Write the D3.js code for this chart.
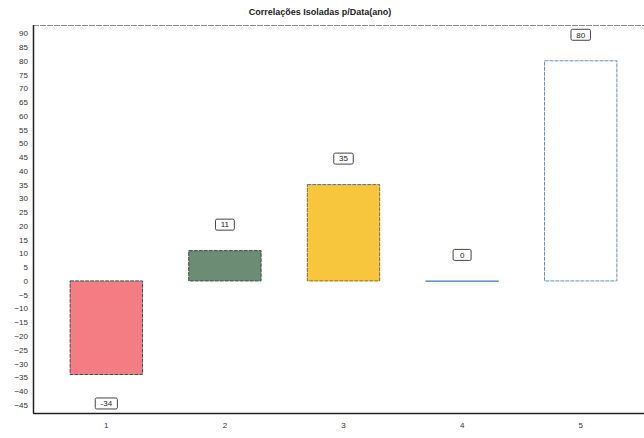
<!DOCTYPE html>
<html>
<head>
<meta charset="utf-8">
<script src="https://cdn.jsdelivr.net/npm/d3@7"></script>
<style>
  html, body { margin: 0; padding: 0; background: #ffffff; }
  svg { display: block; }
</style>
</head>
<body>
<script>
const categories = ["1", "2", "3", "4", "5"];
const values = [-34, 11, 35, 0, 80];
const barColors = ["#f47d83", "#6c8c73", "#f8c63c", "#ffffff", "#ffffff"];
const barStrokes = ["#4a4a4a", "#3a4a3e", "#7a6a38", "#5b8fd0", "#6a8fb8"];
const yTicks = d3.range(-45, 91, 5);
const title = "Correlações Isoladas p/Data(ano)";

const W = 644, H = 438;
const svg = d3.select("body").append("svg").attr("width", W).attr("height", H);

const plotLeft = 33, plotRight = 644, plotTop = 25, plotBottom = 413;

const y = d3.scaleLinear().domain([-48, 93]).range([plotBottom, plotTop]);
const x = d3.scaleBand().domain(categories).range([47, 640])
  .paddingInner(0.39).paddingOuter(0.195);

// title
svg.append("text")
  .attr("x", 320).attr("y", 15)
  .attr("text-anchor", "middle")
  .attr("font-family", "Liberation Sans, Arial, sans-serif")
  .attr("font-size", 9).attr("font-weight", "bold")
  .attr("fill", "#222")
  .text(title);

// top frame line
svg.append("line")
  .attr("x1", plotLeft).attr("x2", plotRight)
  .attr("y1", plotTop + 0.5).attr("y2", plotTop + 0.5)
  .attr("stroke", "#8a9098").attr("stroke-width", 1)
  .attr("stroke-dasharray", "6,1");

// y axis
const yAxis = d3.axisLeft(y).tickValues(yTicks).tickSize(0).tickPadding(5);
const gy = svg.append("g").attr("transform", `translate(${plotLeft},0)`).call(yAxis);
gy.select(".domain").remove();
gy.selectAll("text")
  .attr("font-family", "Liberation Sans, Arial, sans-serif")
  .attr("font-size", 8).attr("fill", "#333");
svg.append("line")
  .attr("x1", plotLeft + 0.5).attr("x2", plotLeft + 0.5)
  .attr("y1", plotTop).attr("y2", plotBottom)
  .attr("stroke", "#222").attr("stroke-width", 1.5);

// x axis
const xAxis = d3.axisBottom(x).tickSize(0).tickPadding(9);
const gx = svg.append("g").attr("transform", `translate(0,${plotBottom})`).call(xAxis);
gx.select(".domain").remove();
gx.selectAll("text")
  .attr("font-family", "Liberation Sans, Arial, sans-serif")
  .attr("font-size", 8).attr("fill", "#333");
svg.append("line")
  .attr("x1", plotLeft).attr("x2", plotRight)
  .attr("y1", plotBottom + 0.5).attr("y2", plotBottom + 0.5)
  .attr("stroke", "#222").attr("stroke-width", 1.5);

// bars
const data = categories.map((c, i) => ({ c, v: values[i], fill: barColors[i], stroke: barStrokes[i] }));
svg.selectAll("rect.bar").data(data).enter().append("rect")
  .attr("class", "bar")
  .attr("x", d => x(d.c))
  .attr("width", x.bandwidth())
  .attr("y", d => Math.min(y(d.v), y(0)))
  .attr("height", d => Math.max(Math.abs(y(d.v) - y(0)), 0.5))
  .attr("fill", d => d.fill)
  .attr("stroke", d => d.stroke)
  .attr("stroke-width", 1)
  .attr("stroke-dasharray", d => d.v === 0 ? null : "4,1");

// value labels
const lg = svg.selectAll("g.lbl").data(data).enter().append("g").attr("class", "lbl")
  .attr("transform", d => {
    const cx = x(d.c) + x.bandwidth() / 2;
    const cy = d.v < 0 ? y(d.v) + 29 : y(d.v) - 26;
    return `translate(${cx},${cy})`;
  });
lg.each(function(d) {
  const g = d3.select(this);
  const t = g.append("text")
    .attr("text-anchor", "middle").attr("dy", "0.35em")
    .attr("font-family", "Liberation Sans, Arial, sans-serif")
    .attr("font-size", 8).attr("fill", "#222")
    .text(d.v);
  const bb = t.node().getBBox();
  const w = Math.max(bb.width + 10, 18), h = 11;
  g.insert("rect", "text")
    .attr("x", -w / 2).attr("y", -h / 2)
    .attr("width", w).attr("height", h)
    .attr("rx", 1.5)
    .attr("fill", "#fff").attr("stroke", "#444").attr("stroke-width", 1);
});
</script>
</body>
</html>
